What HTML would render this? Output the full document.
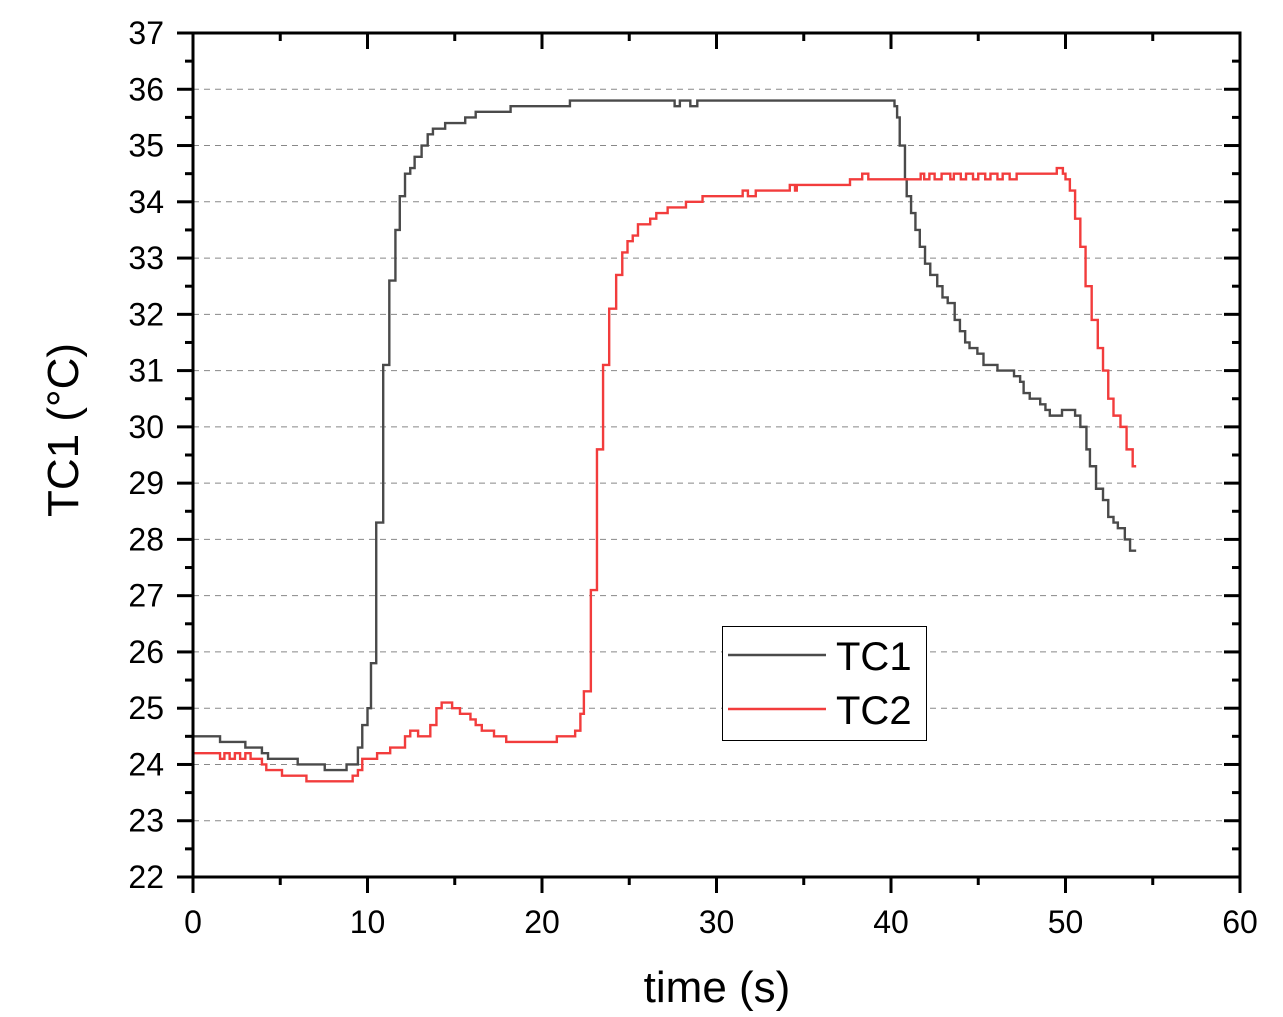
<!DOCTYPE html>
<html><head><meta charset="utf-8"><style>
body{margin:0;background:#fff}
svg{display:block;font-family:"Liberation Sans",Arial,sans-serif}
</style></head><body>
<svg id="chart" width="1283" height="1017" viewBox="0 0 1283 1017" xmlns="http://www.w3.org/2000/svg">
<g id="grid"></g>
<g id="series"></g>
<g id="axes"></g>
<text x="717" y="1002" font-size="44" text-anchor="middle">time (s)</text>
<text transform="translate(78,430) rotate(-90)" font-size="44" text-anchor="middle">TC1 (°C)</text>
<g>
<rect x="722.5" y="626.5" width="204" height="114" fill="#fff" stroke="#000" stroke-width="1"/>
<line x1="728" y1="655" x2="826" y2="655" stroke="#4a4a4a" stroke-width="2.5"/>
<text x="836" y="670" font-size="40">TC1</text>
<line x1="728" y1="709" x2="826" y2="709" stroke="#f23c3c" stroke-width="2.5"/>
<text x="836" y="724" font-size="40">TC2</text>
</g>
</svg>
<script>
const tc1Time=[0,1.55,3.0,3.95,4.3,6.0,7.55,8.8,9.45,9.7,10.0,10.2,10.5,10.9,11.25,11.6,11.85,12.15,12.45,12.7,13.1,13.45,13.75,14.45,15.6,16.2,18.2,21.6,27.6,27.9,28.5,28.9,29.35,40.2,40.35,40.5,40.8,40.9,41.15,41.4,41.65,41.95,42.25,42.65,42.95,43.25,43.65,43.95,44.25,44.5,44.95,45.3,45.7,46.1,47.05,47.4,47.6,47.95,48.55,48.85,49.1,49.8,50.55,50.85,51.2,51.4,51.75,52.15,52.45,52.75,53.0,53.4,53.7,54.05];
const tc1Temp=[24.5,24.4,24.3,24.2,24.1,24.0,23.9,24.0,24.3,24.7,25.0,25.8,28.3,31.1,32.6,33.5,34.1,34.5,34.6,34.8,35.0,35.2,35.3,35.4,35.5,35.6,35.7,35.8,35.7,35.8,35.7,35.8,35.8,35.7,35.5,35.0,34.4,34.1,33.8,33.5,33.2,32.9,32.7,32.5,32.3,32.2,31.9,31.7,31.5,31.4,31.3,31.1,31.1,31.0,30.9,30.8,30.6,30.5,30.4,30.3,30.2,30.3,30.2,30.0,29.6,29.3,28.9,28.7,28.4,28.3,28.2,28.0,27.8,27.8];
const tc2Time=[0,1.55,1.8,2.1,2.4,2.7,3.0,3.3,3.95,4.2,5.1,6.5,9.15,9.45,9.7,10.55,11.3,12.15,12.45,12.9,13.6,13.95,14.25,14.85,15.3,15.9,16.2,16.55,17.25,17.95,20.85,21.9,22.2,22.4,22.8,23.15,23.5,23.85,24.25,24.6,24.9,25.2,25.5,26.2,26.55,27.2,28.25,29.2,31.5,31.8,32.25,34.2,34.5,34.6,37.65,38.35,38.7,41.7,41.9,42.2,42.5,42.9,43.4,43.6,44.0,44.3,44.7,45.0,45.4,45.7,46.1,46.4,46.8,47.2,49.5,49.85,50.0,50.25,50.55,50.85,51.15,51.5,51.85,52.15,52.45,52.75,53.15,53.5,53.85,54.05];
const tc2Temp=[24.2,24.1,24.2,24.1,24.2,24.1,24.2,24.1,24.0,23.9,23.8,23.7,23.8,23.9,24.1,24.2,24.3,24.5,24.6,24.5,24.7,25.0,25.1,25.0,24.9,24.8,24.7,24.6,24.5,24.4,24.5,24.6,24.9,25.3,27.1,29.6,31.1,32.1,32.7,33.1,33.3,33.4,33.6,33.7,33.8,33.9,34.0,34.1,34.2,34.1,34.2,34.3,34.2,34.3,34.4,34.5,34.4,34.5,34.4,34.5,34.4,34.5,34.4,34.5,34.4,34.5,34.4,34.5,34.4,34.5,34.4,34.5,34.4,34.5,34.6,34.5,34.4,34.2,33.7,33.2,32.5,31.9,31.4,31.0,30.5,30.2,30.0,29.6,29.3,29.3];
const xTicks=[0,10,20,30,40,50,60];
const yTicks=[22,23,24,25,26,27,28,29,30,31,32,33,34,35,36,37];
const X0=193,X1=1240,Y0=877,Y1=33;
const xs=t=>X0+(t-0)/60*(X1-X0);
const ys=v=>Y0-(v-22)/15*(Y0-Y1);
const NS="http://www.w3.org/2000/svg";
function mk(tag,attrs,parent){const e=document.createElementNS(NS,tag);for(const k in attrs)e.setAttribute(k,attrs[k]);parent.appendChild(e);return e;}
const grid=document.getElementById('grid'),axes=document.getElementById('axes'),series=document.getElementById('series');
yTicks.forEach(v=>{if(v===22||v===37)return;const l=mk('line',{x1:X0,x2:X1,y1:ys(v),y2:ys(v),stroke:'#888','stroke-width':1,'stroke-dasharray':'6,5'},grid);

});
function step(time,temp,color,name){let d='M'+xs(time[0])+','+ys(temp[0]);for(let i=1;i<time.length;i++){d+=' H'+xs(time[i])+' V'+ys(temp[i]);}
const p=mk('path',{d:d,fill:'none',stroke:color,'stroke-width':2.4},series);

}
step(tc1Time,tc1Temp,'#4a4a4a','series-tc1');
step(tc2Time,tc2Temp,'#f23c3c','series-tc2');
const fr=mk('rect',{x:X0,y:Y1,width:X1-X0,height:Y0-Y1,fill:'none',stroke:'#000','stroke-width':3},axes);


for(let t=0;t<=60;t+=5){const maj=t%10===0,len=maj?16:8;
mk('line',{x1:xs(t),x2:xs(t),y1:Y0,y2:Y0+len,stroke:'#000','stroke-width':3},axes);
mk('line',{x1:xs(t),x2:xs(t),y1:Y1,y2:Y1+len,stroke:'#000','stroke-width':3},axes);}
xTicks.forEach(t=>{const tx=mk('text',{x:xs(t),y:933,'font-size':32,'text-anchor':'middle'},axes);tx.textContent=t;

});
for(let v=22;v<=37;v+=0.5){const maj=v%1===0,len=maj?16:8;
mk('line',{x1:X0,x2:X0-len,y1:ys(v),y2:ys(v),stroke:'#000','stroke-width':3},axes);
mk('line',{x1:X1,x2:X1-len,y1:ys(v),y2:ys(v),stroke:'#000','stroke-width':3},axes);}
yTicks.forEach(v=>{const tx=mk('text',{x:164,y:ys(v)+11,'font-size':32,'text-anchor':'end'},axes);tx.textContent=v;

});
</script>
</body></html>
